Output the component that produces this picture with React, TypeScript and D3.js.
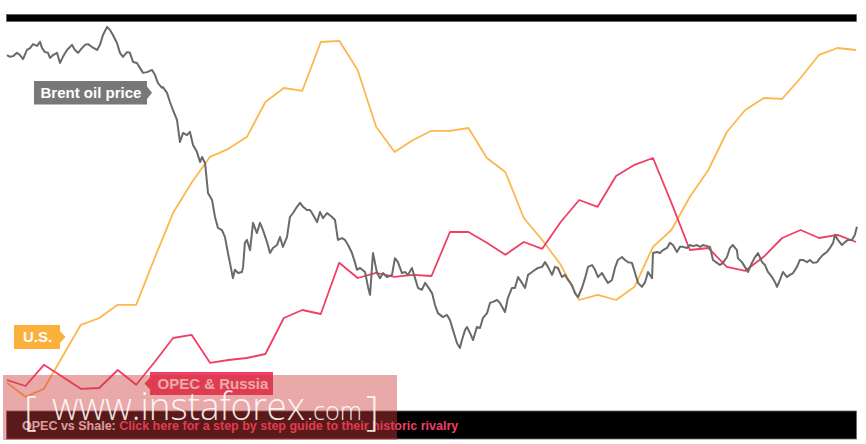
import React from "react";
import * as d3 from "d3";

// Monthly series (index from Jan 2014), production change index
const months: number[] = d3.range(0, 47);
const usProduction: number[] = [
  6.8, 3.3, 5.3, 13.3, 21.3, 23, 26.3, 26.3, 38, 49.3, 56.8, 63.3, 65.3, 68.3, 77, 80.5,
  79.8, 92, 92.3, 85, 70.8, 64.5, 67.5, 69.8, 69.8, 70.5, 63, 59.5, 48, 42.5, 36.3, 27.5,
  28.8, 27.5, 30.8, 40.8, 45, 53.3, 60, 69.5, 75, 78, 77.8, 83, 88.8, 90.5, 90,
];
const opecRussia: number[] = [
  7.5, 6, 11.3, 8.3, 5.3, 5.5, 10, 6.3, 12, 18, 18.8, 11.8, 12.5, 13, 14, 23,
  25, 24, 36.8, 33, 34.3, 33.3, 33.8, 33.5, 44.5, 44.5, 41.8, 38.8, 42, 40.3, 47, 52.5,
  50.8, 58.5, 61.3, 63, 51.8, 40, 40.5, 35.8, 34.8, 38.3, 43, 45, 43, 43.8, 42,
];
// Brent oil price: [month since Jan 2014, USD per barrel]
const brent: [number, number][] = [
  [0, 107.3], [0.16, 106.8], [0.33, 107.0], [0.54, 107.9], [0.7, 107.3], [0.87, 106.2], [1.08, 108.7], [1.25, 109.2],
  [1.41, 110.3], [1.63, 109.8], [1.79, 110.9], [1.9, 109.2], [2.06, 108.1], [2.22, 107.9], [2.33, 106.5], [2.49, 107.3],
  [2.71, 107.9], [2.87, 105.1], [3.03, 106.8], [3.25, 108.7], [3.52, 110.1], [3.68, 108.7], [3.85, 107.9], [4.06, 109.2],
  [4.23, 110.1], [4.39, 110.3], [4.61, 109.5], [4.88, 108.7], [5.04, 110.1], [5.2, 112.8], [5.42, 115.0], [5.58, 114.2],
  [5.74, 112.8], [5.96, 110.6], [6.12, 107.9], [6.28, 106.8], [6.5, 108.1], [6.66, 107.9], [6.83, 105.4], [7.04, 105.1],
  [7.21, 103.7], [7.37, 102.4], [7.59, 102.6], [7.86, 103.2], [8.02, 101.8], [8.18, 99.6], [8.4, 98.3], [8.45, 98.5],
  [8.67, 96.9], [8.83, 94.4], [8.99, 92.2], [9.21, 89.5], [9.37, 83.4], [9.54, 85.9], [9.75, 85.3], [9.91, 86.2],
  [10.08, 82.6], [10.29, 80.7], [10.46, 77.9], [10.57, 79.3], [10.73, 77.6], [10.84, 72.1], [10.89, 69.4], [11.11, 67.5],
  [11.27, 62.8], [11.43, 59.8], [11.65, 59.2], [11.81, 57.3], [11.97, 52.9], [12.08, 50.2],
  [12.24, 46.0], [12.35, 48.3], [12.52, 47.4], [12.73, 47.7], [12.79, 49.1], [12.89, 55.7], [13.0, 56.5], [13.17, 53.7],
  [13.33, 61.2], [13.54, 58.4], [13.71, 61.2], [13.87, 59.2], [14.09, 55.9], [14.25, 52.9], [14.41, 54.3], [14.63, 55.1],
  [14.79, 57.3], [14.95, 54.6], [15.17, 57.3], [15.33, 62.8], [15.5, 63.9], [15.71, 65.6],
  [15.88, 66.7], [16.04, 65.6], [16.25, 64.7], [16.42, 64.7], [16.58, 63.4], [16.8, 61.4], [16.96, 64.2], [17.12, 62.5],
  [17.34, 63.9], [17.61, 62.8], [17.77, 62.0], [17.93, 56.5], [18.15, 57.0], [18.31, 56.5], [18.48, 55.1], [18.69, 52.9],
  [18.85, 50.4], [18.96, 48.3], [19.13, 48.8], [19.4, 47.7], [19.56, 43.6], [19.67, 41.4], [19.83, 52.9], [20.05, 47.4],
  [20.21, 46.0], [20.37, 47.4], [20.59, 46.3], [20.86, 46.9], [21.02, 51.5], [21.18, 50.4], [21.4, 47.4], [21.56, 47.7],
  [21.73, 46.9], [21.94, 48.8], [22.11, 46.0], [22.27, 43.3], [22.48, 42.8], [22.65, 44.7], [22.81, 43.6], [23.03, 41.9],
  [23.19, 38.6], [23.35, 36.4], [23.62, 35.3], [23.84, 35.9],
  [24.0, 34.5], [24.16, 31.8], [24.38, 28.2], [24.54, 26.8], [24.65, 29.0], [24.82, 31.8], [24.92, 32.6], [25.09, 30.9],
  [25.25, 29.0], [25.46, 32.6], [25.63, 32.3], [25.79, 35.1], [26.01, 36.4], [26.17, 39.2], [26.33, 39.5], [26.55, 40.0],
  [26.71, 39.2], [26.98, 36.7], [27.14, 40.6], [27.36, 43.3], [27.52, 43.3], [27.69, 46.3], [27.9, 44.7], [28.07, 43.3],
  [28.23, 46.9], [28.45, 47.7], [28.61, 48.3], [28.77, 48.8], [28.99, 49.1], [29.15, 50.4], [29.31, 49.1], [29.53, 46.9],
  [29.69, 49.1], [29.85, 48.8], [30.07, 46.3], [30.23, 46.9], [30.4, 45.5], [30.61, 44.1], [30.77, 41.9], [30.94, 40.8],
  [31.15, 43.3], [31.32, 46.0], [31.48, 49.1], [31.7, 49.6], [31.86, 48.3], [32.02, 46.3], [32.24, 47.4], [32.4, 46.0],
  [32.56, 44.7], [32.78, 45.5], [32.94, 48.8], [33.1, 51.0], [33.32, 51.8], [33.48, 51.0], [33.65, 50.4], [33.86, 50.2],
  [34.03, 47.4], [34.19, 44.7], [34.4, 43.6], [34.57, 44.9], [34.73, 47.7], [34.95, 46.0],
  [35.0, 52.9], [35.22, 53.2], [35.38, 52.9], [35.54, 53.7], [35.76, 54.3], [35.92, 55.7], [36.08, 55.1], [36.3, 53.2],
  [36.46, 54.6], [36.63, 54.6], [36.84, 54.3], [37.01, 55.1], [37.17, 54.8], [37.38, 55.1], [37.55, 54.6], [37.71, 55.1],
  [37.93, 54.8], [38.09, 54.6], [38.25, 51.0], [38.47, 50.2], [38.63, 49.6], [38.79, 50.2], [39.01, 51.8], [39.17, 54.3],
  [39.33, 55.1], [39.55, 53.7], [39.6, 51.5], [39.82, 50.4], [39.98, 49.1], [40.15, 47.7], [40.36, 50.2], [40.53, 51.8],
  [40.69, 52.9], [40.91, 50.4], [41.07, 49.6], [41.23, 47.7], [41.45, 46.3], [41.61, 44.9], [41.72, 43.6], [41.88, 45.5],
  [42.04, 47.7], [42.26, 46.3], [42.42, 46.9], [42.59, 47.4], [42.8, 49.1], [42.96, 51.0], [43.13, 51.0], [43.34, 50.4],
  [43.51, 51.0], [43.67, 50.2], [43.89, 50.4], [44.05, 51.5], [44.21, 52.4], [44.43, 53.2], [44.59, 54.3], [44.76, 55.7],
  [44.86, 57.9], [45.02, 56.5], [45.24, 55.1], [45.4, 55.9], [45.57, 56.5], [45.78, 56.5], [45.94, 57.9], [46.05, 60.1],
];

const W = 866;
const H = 444;
const FONT = "'Liberation Sans', Arial, Helvetica, sans-serif";

export default function App() {
  const x = d3.scaleLinear().domain([0, 46]).range([7, 856]);
  const yProd = d3.scaleLinear().domain([0, 100]).range([410, 10]);
  const yBrent = d3.scaleLinear().domain([0, 120]).range([445.6, 8.8]);

  const prodLine = d3
    .line<number>()
    .x((_, i) => x(months[i]))
    .y((d) => yProd(d));
  const brentLine = d3
    .line<[number, number]>()
    .x((d) => x(d[0]))
    .y((d) => yBrent(d[1]));

  return (
    <div style={{ position: "absolute", left: 0, top: 0, width: W, height: H, background: "#fff" }}>
      <svg width={W} height={H} style={{ display: "block" }} fontFamily={FONT}>
        <rect x={0} y={0} width={W} height={H} fill="#fff" />
        {/* top bar */}
        <rect x={6.5} y={14.5} width={850} height={7} fill="#000" stroke="#555" strokeWidth={0.6} />

        <path d={prodLine(usProduction) || ""} fill="none" stroke="#fdb74c" strokeWidth={1.8} strokeLinejoin="round" />
        <path d={prodLine(opecRussia) || ""} fill="none" stroke="#f03e64" strokeWidth={1.8} strokeLinejoin="round" />
        <path d={brentLine(brent) || ""} fill="none" stroke="#6a6a6a" strokeWidth={2} strokeLinejoin="round" />

        {/* labels */}
        <path d="M34,81 H147 V86.5 L152,92.7 L147,99 V104.5 H34 Z" fill="#787878" />
        <text x={40.5} y={97.5} fill="#fff" fontSize={15} fontWeight="bold">Brent oil price</text>

        <path d="M14,325 H60 V331 L65.5,337 L60,343 V349 H14 Z" fill="#fbb03b" />
        <text x={23} y={341.5} fill="#fff" fontSize={15} fontWeight="bold">U.S.</text>

        <path d="M150,372 H273 V395 H150 V389.5 L144.5,383.5 L150,377.5 Z" fill="#ef3e63" />
        <text x={157.5} y={388.5} fill="#fff" fontSize={15} fontWeight="bold">OPEC &amp; Russia</text>

        {/* bottom bar */}
        <rect x={6.5} y={411} width={850} height={28} fill="#000" stroke="#666" strokeWidth={0.8} />
        <text x={22} y={429.5} fontSize={12.5} fontWeight="bold">
          <tspan fill="#e6e6e6">OPEC vs Shale: </tspan>
          <tspan fill="#f03e64">Click here for a step by step guide to their historic rivalry</tspan>
        </text>

        {/* watermark */}
        <rect x={3} y={375} width={394} height={65} fill="rgb(204,59,59)" fillOpacity={0.44} />
        <g fill="#fff" fillOpacity={0.88} fontFamily="'Open Sans', 'DejaVu Sans', sans-serif" fontWeight={300}>
          <text x={24} y={425} fontSize={40}>[</text>
          <text x={52} y={420} fontSize={38} textLength={253} lengthAdjust="spacingAndGlyphs">www.instaforex</text>
          <text x={307} y={420} fontSize={26} textLength={55} lengthAdjust="spacingAndGlyphs">.com</text>
          <text x={366} y={425} fontSize={40}>]</text>
        </g>
      </svg>
    </div>
  );
}
